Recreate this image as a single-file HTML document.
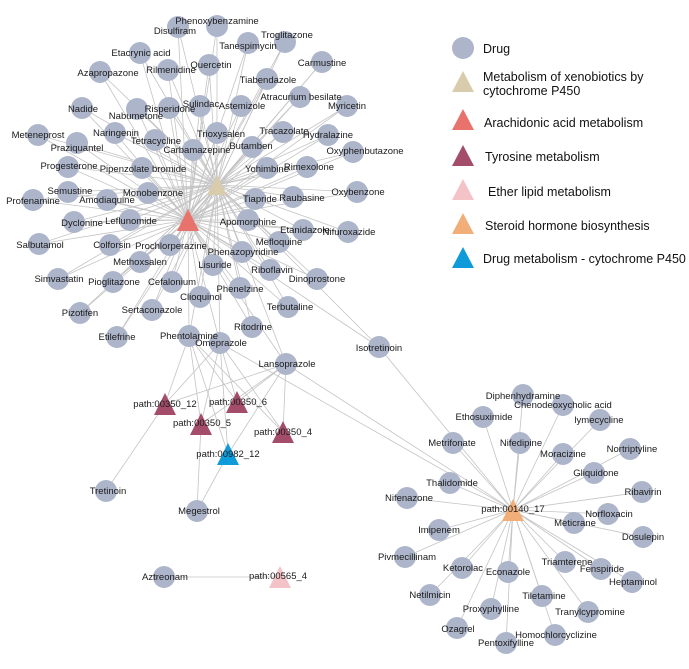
<!DOCTYPE html>
<html><head><meta charset="utf-8"><style>
html,body{margin:0;padding:0;background:#fff;}
svg{display:block;}
.n{fill:#adb5ca;}
text{font-family:"Liberation Sans",sans-serif;font-size:9.5px;fill:#1a1a1a;text-anchor:middle;}
.lg{font-size:12.5px;text-anchor:start;fill:#111;}
</style></head><body>
<svg id="s" width="689" height="669" viewBox="0 0 689 669" xmlns="http://www.w3.org/2000/svg">
<g id="edges" stroke="#c4c4c4" stroke-width="0.8" fill="none"></g>
<g id="nodes"></g>
<g id="tris"></g>
<g id="labels">
<text x="217" y="24">Phenoxybenzamine</text>
<text x="175" y="34">Disulfiram</text>
<text x="287" y="38">Troglitazone</text>
<text x="248" y="49">Tanespimycin</text>
<text x="141" y="56">Etacrynic acid</text>
<text x="322" y="66">Carmustine</text>
<text x="211" y="68">Quercetin</text>
<text x="171" y="73">Rilmenidine</text>
<text x="108" y="76">Azapropazone</text>
<text x="268" y="83">Tiabendazole</text>
<text x="301" y="100">Atracurium besilate</text>
<text x="347" y="109">Myricetin</text>
<text x="83" y="112">Nadide</text>
<text x="136" y="119">Nabumetone</text>
<text x="170" y="112">Risperidone</text>
<text x="201" y="107">Sulindac</text>
<text x="242" y="109">Astemizole</text>
<text x="38" y="138">Meteneprost</text>
<text x="116" y="136">Naringenin</text>
<text x="156" y="144">Tetracycline</text>
<text x="221" y="137">Trioxysalen</text>
<text x="284" y="134">Tracazolate</text>
<text x="328" y="138">Hydralazine</text>
<text x="77" y="151">Praziquantel</text>
<text x="197" y="153">Carbamazepine</text>
<text x="251" y="149">Butamben</text>
<text x="365" y="154">Oxyphenbutazone</text>
<text x="69" y="169">Progesterone</text>
<text x="143" y="172">Pipenzolate bromide</text>
<text x="267" y="172">Yohimbine</text>
<text x="309" y="170">Rimexolone</text>
<text x="70" y="194">Semustine</text>
<text x="33" y="204">Profenamine</text>
<text x="107" y="203">Amodiaquine</text>
<text x="153" y="196">Monobenzone</text>
<text x="260" y="202">Tiapride</text>
<text x="302" y="201">Raubasine</text>
<text x="358" y="195">Oxybenzone</text>
<text x="82" y="226">Dyclonine</text>
<text x="131" y="224">Leflunomide</text>
<text x="248" y="225">Apomorphine</text>
<text x="305" y="233">Etanidazole</text>
<text x="349" y="235">Nifuroxazide</text>
<text x="40" y="248">Salbutamol</text>
<text x="112" y="248">Colforsin</text>
<text x="171" y="249">Prochlorperazine</text>
<text x="279" y="245">Mefloquine</text>
<text x="243" y="255">Phenazopyridine</text>
<text x="140" y="265">Methoxsalen</text>
<text x="215" y="268">Lisuride</text>
<text x="272" y="273">Riboflavin</text>
<text x="59" y="282">Simvastatin</text>
<text x="114" y="285">Pioglitazone</text>
<text x="172" y="285">Cefalonium</text>
<text x="317" y="282">Dinoprostone</text>
<text x="240" y="292">Phenelzine</text>
<text x="201" y="300">Clioquinol</text>
<text x="152" y="313">Sertaconazole</text>
<text x="80" y="316">Pizotifen</text>
<text x="290" y="310">Terbutaline</text>
<text x="253" y="330">Ritodrine</text>
<text x="117" y="340">Etilefrine</text>
<text x="189" y="339">Phentolamine</text>
<text x="221" y="346">Omeprazole</text>
<text x="379" y="351">Isotretinoin</text>
<text x="287" y="367">Lansoprazole</text>
<text x="165" y="407">path:00350_12</text>
<text x="238" y="405">path:00350_6</text>
<text x="202" y="426">path:00350_5</text>
<text x="283" y="435">path:00350_4</text>
<text x="228" y="457">path:00982_12</text>
<text x="108" y="494">Tretinoin</text>
<text x="199" y="514">Megestrol</text>
<text x="165" y="580">Aztreonam</text>
<text x="278" y="579">path:00565_4</text>
<text x="523" y="399">Diphenhydramine</text>
<text x="563" y="408">Chenodeoxycholic acid</text>
<text x="484" y="420">Ethosuximide</text>
<text x="599" y="423">lymecycline</text>
<text x="452" y="446">Metrifonate</text>
<text x="521" y="446">Nifedipine</text>
<text x="563" y="457">Moracizine</text>
<text x="632" y="452">Nortriptyline</text>
<text x="596" y="476">Gliquidone</text>
<text x="452" y="486">Thalidomide</text>
<text x="643" y="495">Ribavirin</text>
<text x="409" y="501">Nifenazone</text>
<text x="513" y="512">path:00140_17</text>
<text x="609" y="517">Norfloxacin</text>
<text x="575" y="526">Meticrane</text>
<text x="643" y="540">Dosulepin</text>
<text x="439" y="533">Imipenem</text>
<text x="407" y="560">Pivmecillinam</text>
<text x="567" y="565">Triamterene</text>
<text x="602" y="572">Fenspiride</text>
<text x="463" y="571">Ketorolac</text>
<text x="508" y="575">Econazole</text>
<text x="633" y="585">Heptaminol</text>
<text x="430" y="598">Netilmicin</text>
<text x="544" y="599">Tiletamine</text>
<text x="491" y="612">Proxyphylline</text>
<text x="590" y="615">Tranylcypromine</text>
<text x="458" y="632">Ozagrel</text>
<text x="556" y="638">Homochlorcyclizine</text>
<text x="506" y="646">Pentoxifylline</text>
</g>
<g id="legend">
<circle cx="463" cy="48" r="11" fill="#adb5ca"/>
<polygon points="463,71 474,92 452,92" fill="#d9ccad"/>
<polygon points="463,109 474,130 452,130" fill="#e8736c"/>
<polygon points="463,145 474,166 452,166" fill="#a34d6a"/>
<polygon points="463,179 474,200 452,200" fill="#f4c3c8"/>
<polygon points="463,213 474,234 452,234" fill="#f2ae78"/>
<polygon points="463,247 474,268 452,268" fill="#0f9ad9"/>
<text class="lg" x="483" y="53">Drug</text>
<text class="lg" x="483" y="81">Metabolism of xenobiotics by</text>
<text class="lg" x="483" y="95">cytochrome P450</text>
<text class="lg" x="484" y="127">Arachidonic acid metabolism</text>
<text class="lg" x="485" y="161">Tyrosine metabolism</text>
<text class="lg" x="488" y="196">Ether lipid metabolism</text>
<text class="lg" x="485" y="230">Steroid hormone biosynthesis</text>
<text class="lg" x="483" y="263">Drug metabolism - cytochrome P450</text>
</g>
</svg>
<script>
(function(){
var tp=[[217,26],[178,27],[285,42],[248,43],[140,53],[322,62],[209,65],[168,70],[100,72],[267,79],[300,97],[347,106],[82,108],[137,109],[169,108],[200,106],[241,106],[38,135],[115,133],[155,140],[217,133],[283,132],[328,135],[77,143],[193,150],[252,147],[353,152],[68,167],[142,168],[267,168],[307,167],[68,192],[33,200],[107,200],[148,193],[255,199],[293,197],[357,192],[74,222],[130,220],[248,220],[303,230],[348,232],[39,244],[110,245],[170,245],[279,242],[242,252],[140,262],[213,265],[270,270],[58,279],[113,282],[172,282],[317,279],[240,288],[200,297],[152,310],[80,313],[288,307],[252,327],[117,337],[189,336],[220,343],[379,347],[286,364]];
var bt=[[523,395],[563,405],[483,417],[600,420],[453,443],[520,443],[563,454],[630,449],[594,473],[450,483],[642,492],[407,498],[608,514],[574,523],[643,537],[439,530],[405,557],[565,562],[601,569],[462,568],[508,572],[632,582],[430,595],[542,596],[491,609],[588,612],[457,628],[555,635],[506,643]];
var ot=[[106,491],[197,511],[164,577]];
var T1=[217,185],T2=[188,220],P12=[165,404],P6=[237,402],P5=[201,424],P4=[283,432],B=[228,454],O=[513,510],K=[280,577];
var E=[];
tp.forEach(function(p){E.push([p,T1]);E.push([p,T2]);});
bt.forEach(function(p){E.push([p,O]);});
[[189,336],[220,343],[286,364]].forEach(function(p){[P12,P6,P5,P4,B].forEach(function(t){E.push([p,t]);});});
E.push([[286,364],O]);E.push([[379,347],O]);E.push([[106,491],P12]);E.push([[197,511],P5]);E.push([[197,511],B]);E.push([[164,577],K]);E.push([[220,343],O]);
var ns="http://www.w3.org/2000/svg",eg=document.getElementById("edges"),ng=document.getElementById("nodes"),tg=document.getElementById("tris");
E.forEach(function(e){var l=document.createElementNS(ns,"line");l.setAttribute("x1",e[0][0]);l.setAttribute("y1",e[0][1]);l.setAttribute("x2",e[1][0]);l.setAttribute("y2",e[1][1]);eg.appendChild(l);});
tp.concat(bt,ot).forEach(function(p){var c=document.createElementNS(ns,"circle");c.setAttribute("cx",p[0]);c.setAttribute("cy",p[1]);c.setAttribute("r",11);c.setAttribute("class","n");ng.appendChild(c);});
[[T1,"#d9ccad",20],[T2,"#e8736c",22],[P12,"#a34d6a",22],[P6,"#a34d6a",22],[P5,"#a34d6a",22],[P4,"#a34d6a",22],[B,"#0f9ad9",22],[O,"#f2ae78",22],[K,"#f4c3c8",22]].forEach(function(t){var x=t[0][0],y=t[0][1],h=t[2],w=t[2]/2;var pg=document.createElementNS(ns,"polygon");pg.setAttribute("points",x+","+(y-h/2)+" "+(x+w)+","+(y+h/2)+" "+(x-w)+","+(y+h/2));pg.setAttribute("fill",t[1]);tg.appendChild(pg);});
})();
</script>
</body></html>
